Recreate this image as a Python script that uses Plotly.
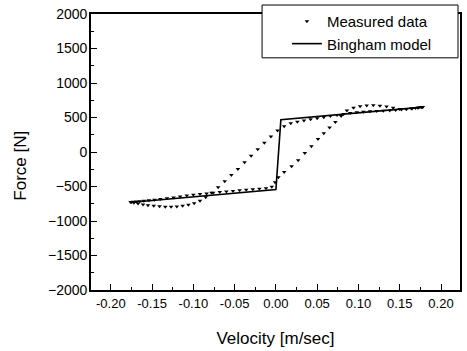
import plotly.graph_objects as go

# Measured data: hysteresis loop (velocity m/s, force N)
meas_v_up = [-0.176, -0.172, -0.167, -0.161, -0.155, -0.148, -0.141, -0.134, -0.127, -0.120,
             -0.113, -0.106, -0.099, -0.092, -0.085, -0.078, -0.070, -0.062, -0.054, -0.046,
             -0.038, -0.030, -0.022, -0.014, -0.006, 0.002, 0.010, 0.018, 0.026, 0.034,
             0.042, 0.050, 0.058, 0.066, 0.074, 0.082, 0.090, 0.098, 0.106, 0.114,
             0.122, 0.130, 0.138, 0.145, 0.152, 0.158, 0.164, 0.169, 0.173, 0.176, 0.178]
meas_f_up = [-725, -735, -748, -760, -770, -780, -788, -793, -794, -790,
             -780, -765, -742, -705, -655, -590, -510, -425, -335, -245,
             -150, -55, 40, 135, 225, 310, 375, 415, 440, 458,
             474, 490, 505, 520, 535, 550, 565, 575, 585, 590,
             595, 598, 602, 608, 615, 622, 630, 638, 645, 650, 652]
meas_v_down = [0.177, 0.172, 0.165, 0.158, 0.150, 0.142, 0.134, 0.126, 0.118, 0.110,
               0.102, 0.094, 0.086, 0.079, 0.072, 0.065, 0.058, 0.051, 0.043, 0.035,
               0.027, 0.019, 0.010, 0.003, -0.001, -0.005, -0.012, -0.020, -0.028, -0.036,
               -0.044, -0.052, -0.060, -0.068, -0.076, -0.084, -0.092, -0.100, -0.108, -0.116,
               -0.124, -0.132, -0.140, -0.147, -0.154, -0.160, -0.165, -0.169, -0.173, -0.175]
meas_f_down = [648, 640, 630, 622, 625, 640, 660, 672, 678, 675,
               662, 640, 600, 520, 435, 355, 270, 190, 85, -15,
               -120, -207, -290, -365, -440, -505, -525, -532, -540, -548,
               -556, -564, -572, -581, -590, -600, -610, -620, -632, -645,
               -658, -670, -682, -692, -700, -708, -714, -718, -722, -724]

# Bingham model
bing_v = [-0.177, 0.0, 0.006, 0.178]
bing_f = [-731, -543, 468, 650]

x_ticks = [-0.20, -0.15, -0.10, -0.05, 0.00, 0.05, 0.10, 0.15, 0.20]
x_tick_labels = ["-0.20", "-0.15", "-0.10", "-0.05", "0.00", "0.05", "0.10", "0.15", "0.20"]
y_ticks = [-2000, -1500, -1000, -500, 0, 500, 1000, 1500, 2000]
x_minor = [-0.225, -0.175, -0.125, -0.075, -0.025, 0.025, 0.075, 0.125, 0.175]
y_minor = [-1750, -1250, -750, -250, 250, 750, 1250, 1750]

FONT = "Arial, Liberation Sans, sans-serif"

fig = go.Figure()
fig.add_trace(go.Scatter(
    x=meas_v_up + meas_v_down, y=meas_f_up + meas_f_down,
    mode="markers", name="Measured data",
    marker=dict(symbol="triangle-down", size=4, color="black"),
))
fig.add_trace(go.Scatter(
    x=bing_v, y=bing_f, mode="lines", name="Bingham model",
    line=dict(color="black", width=1.6),
))

axis_common = dict(
    showgrid=False, zeroline=False, showline=True, linecolor="black", linewidth=1.6,
    mirror=True, ticks="inside", ticklen=6, tickwidth=1.2, tickcolor="black",
)

fig.update_xaxes(
    range=[-0.224, 0.223], tickvals=x_ticks, ticktext=x_tick_labels,
    tickfont=dict(family=FONT, size=13, color="black"),
    ticklabelstandoff=1,
    title=dict(text="Velocity [m/sec]", font=dict(family=FONT, size=17, color="black"), standoff=22),
    minor=dict(ticks="inside", ticklen=3, tickwidth=1, tickcolor="black", tickvals=x_minor),
    **axis_common,
)
fig.update_yaxes(
    range=[-2000, 2000], tickvals=y_ticks,
    tickfont=dict(family=FONT, size=14, color="black"),
    ticklabelstandoff=-1,
    minor=dict(ticks="inside", ticklen=3, tickwidth=1, tickcolor="black", tickvals=y_minor),
    **axis_common,
)

fig.add_annotation(
    text="Force [N]", textangle=-90, xref="paper", yref="paper",
    x=-0.19, y=0.45, xanchor="center", yanchor="middle", showarrow=False,
    font=dict(family=FONT, size=17, color="#000000"),
)

# legend frame
fig.add_shape(
    type="rect", xref="paper", yref="paper",
    x0=0.4636, x1=0.9946, y0=0.8412, y1=1.0325,
    line=dict(color="black", width=1), fillcolor="white", layer="above",
)

fig.update_layout(
    width=467, height=351,
    margin=dict(l=91, r=5, t=13, b=61),
    plot_bgcolor="white", paper_bgcolor="white",
    showlegend=True,
    legend=dict(
        x=0.531, y=1.033, xanchor="left", yanchor="top",
        bgcolor="rgba(0,0,0,0)", borderwidth=0,
        font=dict(family=FONT, size=15, color="black"),
        tracegroupgap=0,
    ),
)

fig.write_html("out.html")
